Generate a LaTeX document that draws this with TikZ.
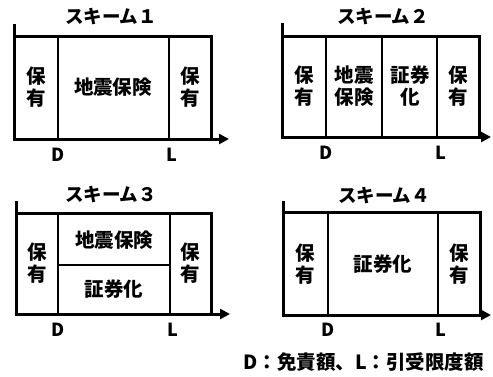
\documentclass[tikz,border=0pt]{standalone}
\usepackage{fontspec}
\setmainfont{Noto Sans CJK JP}
\usetikzlibrary{arrows.meta}
\begin{document}
\begin{tikzpicture}[x=1pt,y=-1pt,
  frame/.style={line width=3pt},
  div/.style={line width=2.6pt},
  axis/.style={line width=3pt,-{Triangle[length=10pt,width=10pt]}},
  ttl/.style={font=\fontsize{18.5}{18}\selectfont\bfseries},
  cell/.style={font=\fontsize{19.5}{21.5}\selectfont\bfseries,align=center,inner sep=0pt},
  lbl/.style={font=\fontsize{18}{18}\selectfont\bfseries,inner sep=0pt}]
\useasboundingbox (0,0) rectangle (493,376);
% ---------- Scheme 1
\node[ttl] (t1) at (111,17) {スキーム１};
\draw[frame] (14,24) -- (14,139);
\draw[frame] (14,36) -- (211,36) -- (211,139);
\draw[div] (58,36) -- (58,139);
\draw[div] (169,36) -- (169,139);
\draw[axis] (12.5,139) -- (229,139);
\node[cell] (a1) at (36,87) {保\\有};
\node[cell] (b1) at (113,87) {地震保険};
\node[cell] (c1) at (190,87) {保\\有};
\node[lbl] (d1) at (58,155) {D};
\node[lbl] (l1) at (172,155) {L};
% ---------- Scheme 2
\node[ttl] (t2) at (383,17) {スキーム２};
\draw[frame] (282,23) -- (282,137);
\draw[frame] (282,36) -- (479,36) -- (479,137);
\draw[div] (326,36) -- (326,137);
\draw[div] (382,36) -- (382,137);
\draw[div] (437,36) -- (437,137);
\draw[axis] (280.5,137) -- (491,137);
\node[cell] (a2) at (304,86) {保\\有};
\node[cell] (b2) at (354,86) {地震\\保険};
\node[cell] (c2) at (410,86) {証券\\化};
\node[cell] (e2) at (458,86) {保\\有};
\node[lbl] (d2) at (326,153) {D};
\node[lbl] (l2) at (441,153) {L};
% ---------- Scheme 3
\node[ttl] (t3) at (111,195) {スキーム３};
\draw[frame] (16,201) -- (16,314);
\draw[frame] (16,213) -- (211,213) -- (211,314);
\draw[div] (58,213) -- (58,314);
\draw[div] (170,213) -- (170,314);
\draw[div] (58,265) -- (170,265);
\draw[axis] (14.5,314) -- (230,314);
\node[cell] (a3) at (37,263) {保\\有};
\node[cell] (b3) at (114,240) {地震保険};
\node[cell] (c3) at (114,289) {証券化};
\node[cell] (e3) at (190,263) {保\\有};
\node[lbl] (d3) at (58,330) {D};
\node[lbl] (l3) at (173,330) {L};
% ---------- Scheme 4
\node[ttl] (t4) at (384,196) {スキーム４};
\draw[frame] (283,201) -- (283,315);
\draw[frame] (283,212) -- (480,212) -- (480,315);
\draw[div] (328,212) -- (328,315);
\draw[div] (438,212) -- (438,315);
\draw[axis] (281.5,315) -- (491,315);
\node[cell] (a4) at (305,264) {保\\有};
\node[cell] (b4) at (383,264) {証券化};
\node[cell] (e4) at (459,264) {保\\有};
\node[lbl] (d4) at (328,330) {D};
\node[lbl] (l4) at (441,330) {L};
% ---------- Footnote
\node[font=\fontsize{19.5}{19.5}\selectfont\bfseries,anchor=east,inner sep=0pt] (fn) at (484,362) {D：免責額、L：引受限度額};
\end{tikzpicture}
\end{document}
